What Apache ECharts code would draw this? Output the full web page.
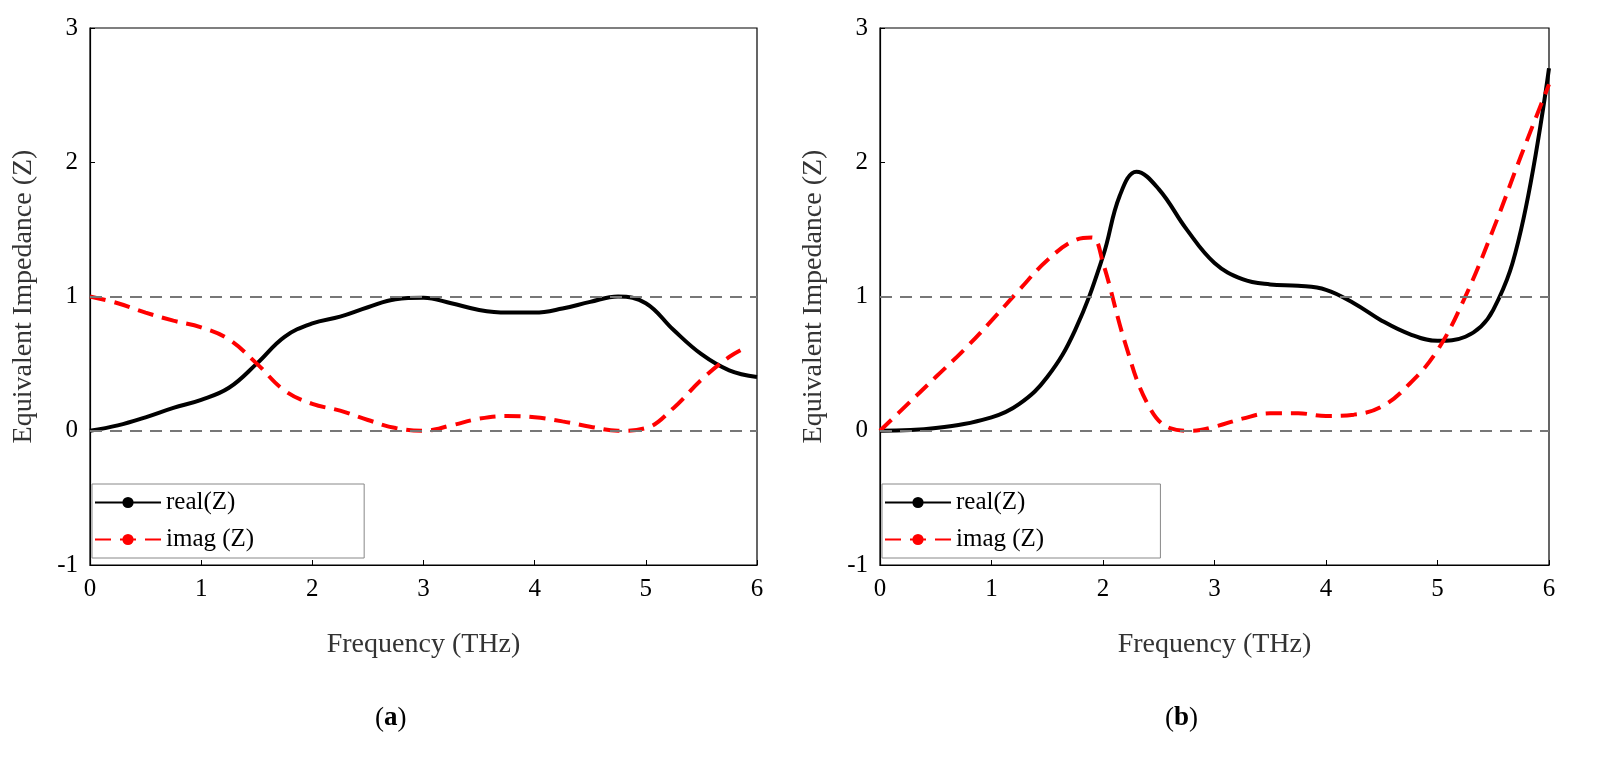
<!DOCTYPE html>
<html><head><meta charset="utf-8">
<script src="https://cdn.jsdelivr.net/npm/echarts@6/dist/echarts.min.js"></script>
<style>html,body{margin:0;background:#fff}#c{width:1616px;height:763px}</style>
</head><body><div id="c"></div>
<script>
var realA = [[0,0],[0.25,0.04],[0.5,0.1],[0.75,0.17],[1,0.23],[1.25,0.32],[1.5,0.5],[1.75,0.7],[2,0.8],[2.25,0.85],[2.5,0.92],[2.75,0.98],[3,0.99],[3.25,0.95],[3.5,0.9],[3.75,0.88],[4,0.88],[4.25,0.91],[4.5,0.96],[4.75,1.0],[5,0.95],[5.25,0.75],[5.5,0.57],[5.75,0.45],[6,0.4]];
var imagA = [[0,1.0],[0.25,0.95],[0.5,0.88],[0.75,0.82],[1,0.77],[1.25,0.68],[1.5,0.5],[1.75,0.3],[2,0.2],[2.25,0.15],[2.5,0.08],[2.75,0.02],[3,0],[3.25,0.04],[3.5,0.09],[3.75,0.11],[4,0.1],[4.25,0.07],[4.5,0.03],[4.75,0],[5,0.02],[5.25,0.17],[5.5,0.38],[5.75,0.55],[5.9,0.62]];
var realB = [[0,0],[0.5,0.02],[1,0.1],[1.25,0.2],[1.5,0.4],[1.75,0.75],[2,1.3],[2.15,1.75],[2.3,1.93],[2.5,1.8],[2.75,1.5],[3,1.25],[3.25,1.13],[3.5,1.09],[3.75,1.08],[4,1.05],[4.25,0.95],[4.5,0.82],[4.75,0.72],[5,0.67],[5.25,0.7],[5.5,0.9],[5.75,1.5],[6,2.7]];
var imagB = [[0,0],[0.25,0.2],[0.5,0.4],[0.75,0.6],[1,0.82],[1.25,1.05],[1.5,1.27],[1.75,1.42],[1.9,1.44],[2,1.25],[2.2,0.65],[2.4,0.2],[2.6,0.02],[2.8,0],[3,0.03],[3.25,0.09],[3.5,0.13],[3.75,0.13],[4,0.11],[4.25,0.12],[4.5,0.18],[4.75,0.35],[5,0.6],[5.25,1.0],[5.5,1.5],[5.75,2.05],[6,2.58]];
var refLines = [0, 1];

var font = 'Liberation Serif';
var chart = echarts.init(document.getElementById('c'));
function xAx(i){return {type:'value',gridIndex:i,min:0,max:6,interval:1,name:'Frequency (THz)',nameLocation:'middle',nameGap:66,
  nameTextStyle:{fontFamily:font,fontSize:28,color:'#333'},axisLine:{onZero:false,lineStyle:{color:'#000',width:1.2}},
  axisTick:{inside:true,length:5,lineStyle:{color:'#000'}},axisLabel:{fontFamily:font,fontSize:25,color:'#000',margin:12},splitLine:{show:false}};}
function yAx(i){return {type:'value',gridIndex:i,min:-1,max:3,interval:1,name:'Equivalent Impedance (Z)',nameLocation:'middle',nameGap:52,
  nameTextStyle:{fontFamily:font,fontSize:28,color:'#333'},axisLine:{lineStyle:{color:'#000',width:1.2}},
  axisTick:{inside:true,length:5,lineStyle:{color:'#000'}},axisLabel:{fontFamily:font,fontSize:25,color:'#000',margin:12},splitLine:{show:false}};}
function ser(d,i,dash,name){return {type:'line',name:name,xAxisIndex:i,yAxisIndex:i,data:d,smooth:0.4,symbol:'none',
  lineStyle:{color:dash?'#ff0000':'#000',width:4,type:dash?[16,9]:'solid'},itemStyle:{color:dash?'#ff0000':'#000'}};}
function refs(i){return {type:'line',xAxisIndex:i,yAxisIndex:i,data:[],markLine:{silent:true,symbol:'none',label:{show:false},
  lineStyle:{color:'#777',type:[12,8],width:2},data:refLines.map(function(v){return {yAxis:v};})}};}
var grids=[{left:90,top:28,width:667,height:537,show:true,borderColor:'#000',borderWidth:1.2},
           {left:880,top:28,width:669,height:537,show:true,borderColor:'#000',borderWidth:1.2}];
chart.setOption({
  animation:false,
  grid:grids,
  xAxis:[xAx(0),xAx(1)],
  yAxis:[yAx(0),yAx(1)],
  legend:[0,1].map(function(i){return {orient:'vertical',left:grids[i].left+2,top:484,itemWidth:66,itemHeight:14,itemGap:12,
    backgroundColor:'#fff',borderColor:'#888',borderWidth:1,padding:[6,110,6,2],
    textStyle:{fontFamily:font,fontSize:25,color:'#000'},data:i===0?['real(Z)','imag (Z)']:['real(Z) ','imag (Z) ']};}),
  series:[refs(0),refs(1),
    ser(realA,0,false,'real(Z)'),ser(imagA,0,true,'imag (Z)'),
    ser(realB,1,false,'real(Z) '),ser(imagB,1,true,'imag (Z) ')],
  graphic:[
    {type:'text',left:375,top:705,style:{text:'({b|a})',rich:{b:{fontWeight:'bold',fontFamily:font,fontSize:27}},font:'27px "Liberation Serif"',fill:'#000'}},
    {type:'text',left:1165,top:705,style:{text:'({b|b})',rich:{b:{fontWeight:'bold',fontFamily:font,fontSize:27}},font:'27px "Liberation Serif"',fill:'#000'}}
  ]
});
</script></body></html>
